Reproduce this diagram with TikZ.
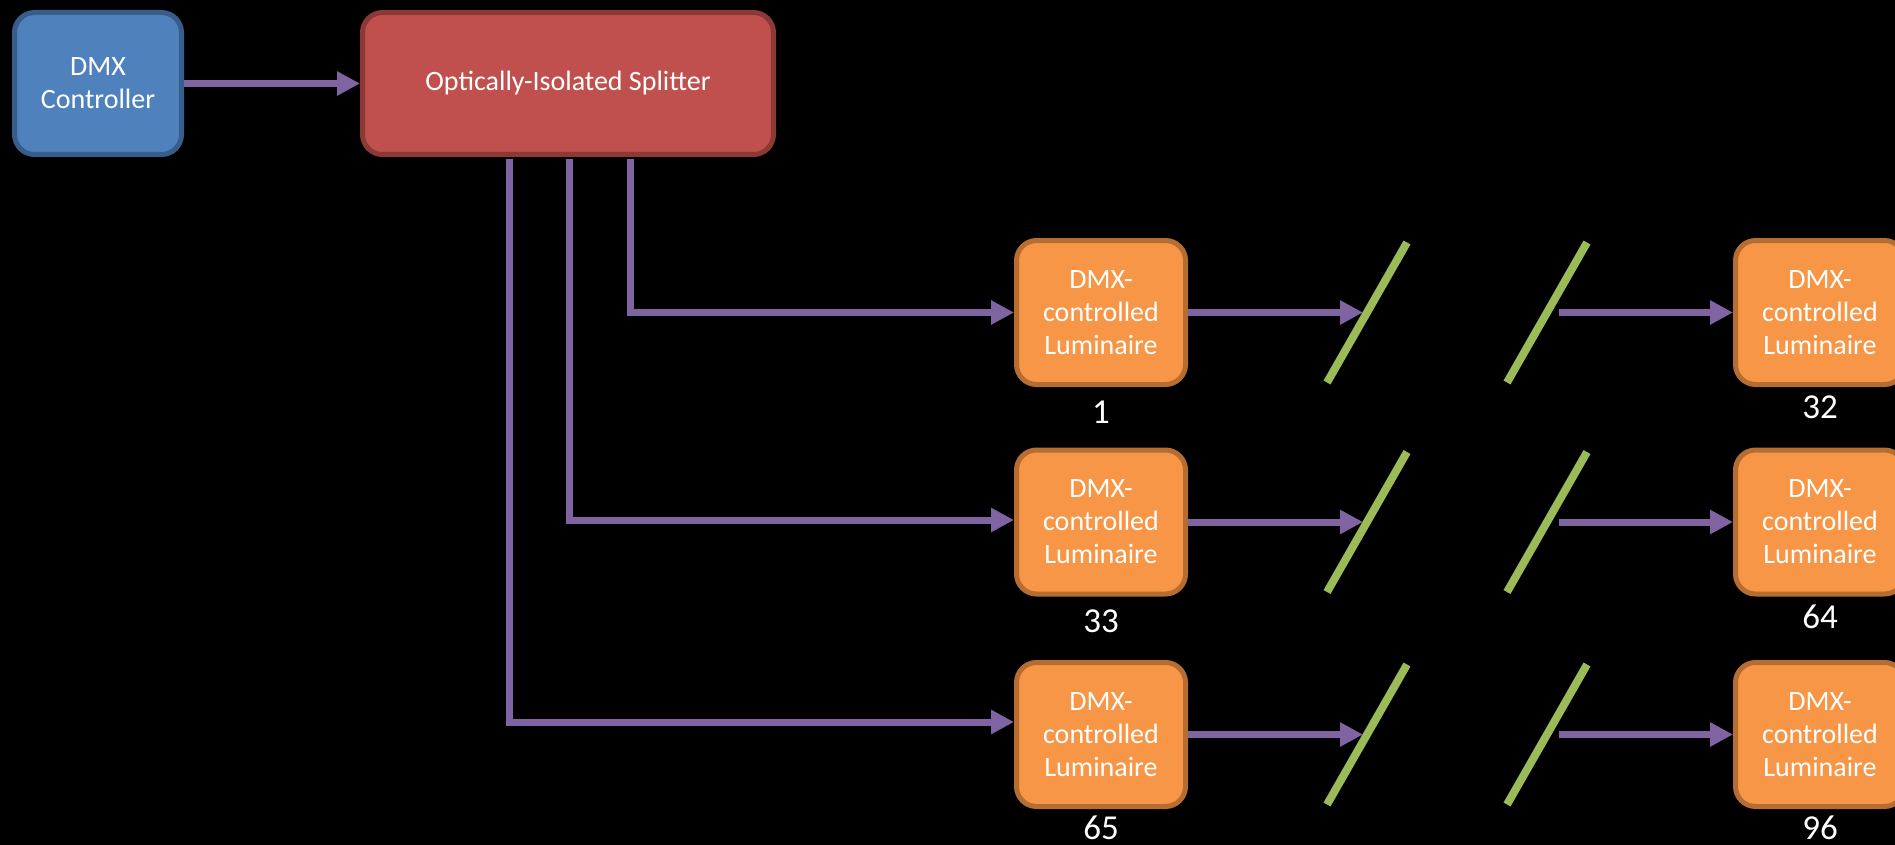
\documentclass[tikz,border=0pt]{standalone}
\usepackage{fontspec}
\setmainfont{Carlito}
\usetikzlibrary{arrows.meta}

\definecolor{ctrlfill}{HTML}{4F81BD}
\definecolor{ctrlline}{HTML}{385D8A}
\definecolor{splitfill}{HTML}{C0504D}
\definecolor{splitline}{HTML}{8C3836}
\definecolor{lumfill}{HTML}{F79646}
\definecolor{lumline}{HTML}{B66D31}
\definecolor{buscol}{HTML}{8064A2}
\definecolor{cutcol}{HTML}{9BBB59}

\begin{document}
\begin{tikzpicture}[x=1pt,y=-1pt,
  box/.style={rounded corners=20pt, line width=5pt, text=white,
    font=\fontsize{28}{33}\selectfont, align=center, inner sep=0pt},
  ctrlbox/.style={box, fill=ctrlfill, draw=ctrlline,
    minimum width=167pt, minimum height=142pt},
  splitbox/.style={box, fill=splitfill, draw=splitline,
    minimum width=411pt, minimum height=142pt},
  lumbox/.style={box, fill=lumfill, draw=lumline,
    minimum width=169pt, minimum height=144pt},
  numlabel/.style={text=white, inner sep=0pt, font=\fontsize{35}{35}\selectfont},
  bus/.style={draw=buscol, line width=7pt},
  link/.style={bus, -{Triangle[length=23pt,width=23pt]}},
  cutmark/.style={draw=cutcol, line width=8pt}
]
% canvas
\fill[black] (0,0) rectangle (1895,845);
\useasboundingbox (0,0) rectangle (1895,845);

% controller and splitter
\node[ctrlbox] (ctrl) at (98,83.5) {DMX\\Controller};
\node[splitbox] (split) at (568,83.5) {Optically-Isolated Splitter};
\draw[link] (ctrl.east) -- (split.west);

% three chains of luminaires
\foreach \r/\y/\first/\last/\ya/\yb in {1/312.5/1/32/412/407, 2/522/33/64/621/617, 3/734.5/65/96/828/828}{
  \node[lumbox] (lumA\r) at (1101,\y) {DMX-\\controlled\\Luminaire};
  \node[lumbox] (lumB\r) at (1820,\y) {DMX-\\controlled\\Luminaire};
  \node[numlabel] (numA\r) at (1101,\ya) {\first};
  \node[numlabel] (numB\r) at (1820,\yb) {\last};
  % break marks
  \coordinate (cutA\r lo) at (1327,\y+70);
  \coordinate (cutA\r hi) at (1407,\y-70);
  \coordinate (cutB\r lo) at (1507,\y+70);
  \coordinate (cutB\r hi) at (1587,\y-70);
  \draw[cutmark] (cutA\r lo) -- (cutA\r hi);
  \draw[cutmark] (cutB\r lo) -- (cutB\r hi);
  \coordinate (gapIn\r) at (1363,\y);
  \coordinate (gapOut\r) at (1559,\y);
  \draw[link] (lumA\r.east) -- (gapIn\r);
  \draw[link] (gapOut\r) -- (lumB\r.west);
}

% splitter outputs
\draw[link, line join=miter, shorten <=2.5pt] ([xshift=62pt]split.south) |- (lumA1.west);
\draw[link, line join=miter, shorten <=2.5pt] ([xshift=1pt]split.south) |- ([yshift=2pt]lumA2.west);
\draw[link, line join=miter, shorten <=2.5pt] ([xshift=-59pt]split.south) |- ([yshift=12.5pt]lumA3.west);
\end{tikzpicture}
\end{document}
